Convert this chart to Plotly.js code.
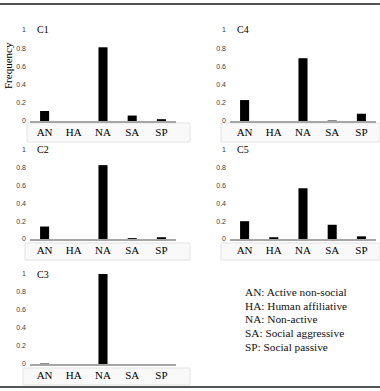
<!DOCTYPE html>
<html>
<head>
<meta charset="utf-8">
<script src="https://cdn.plot.ly/plotly-3.0.1.min.js"></script>
<style>html,body{margin:0;padding:0;background:#fff;}#chart{width:380px;height:391px;}</style>
</head>
<body>
<div id="chart"></div>
<script>
// ---- data ----
const categories = ['AN', 'HA', 'NA', 'SA', 'SP'];
const panelNames = ['C1', 'C2', 'C3', 'C4', 'C5'];
const c1 = [0.11, 0, 0.81, 0.06, 0.02];
const c2 = [0.14, 0, 0.83, 0.01, 0.02];
const c3 = [0.005, 0, 1.0, 0, 0];
const c4 = [0.23, 0, 0.69, 0.005, 0.08];
const c5 = [0.20, 0.02, 0.57, 0.16, 0.03];
const yTickVals = [0, 0.2, 0.4, 0.6, 0.8, 1];
const yTickText = ['0', '0.2', '0.4', '0.6', '0.8', '1'];
const legendLines = ['AN: Active non-social', 'HA: Human affiliative', 'NA: Non-active', 'SA: Social aggressive', 'SP: Social passive'];
const yTitle = 'Frequency';

// ---- layout helpers ----
const W = 380, H = 391;
const px = v => v / W;
const py = v => 1 - v / H;
const serif = "'Liberation Serif', 'Times New Roman', serif";
const sans = "'Liberation Sans', Arial, sans-serif";

const series = [c1, c2, c3, c4, c5];
// panel pixel geometry: [x0, x1, yTop, yBottom]
const geo = [
  [30, 176, 30, 121],
  [30, 176, 150, 239],
  [30, 176, 274, 364],
  [230, 376, 30, 121],
  [230, 376, 150, 239]
];
const boxes = [
  [27, 190, 123, 142],
  [25, 190, 243, 260],
  [23, 190, 368, 385],
  [221, 380, 123, 142],
  [221, 380, 243, 260]
];

const data = [];
const layout = {
  width: W, height: H,
  margin: {l: 0, r: 0, t: 0, b: 0},
  paper_bgcolor: '#fff', plot_bgcolor: 'rgba(0,0,0,0)',
  showlegend: false,
  bargap: 0.69,
  shapes: [], annotations: []
};

series.forEach((vals, i) => {
  const n = i === 0 ? '' : String(i + 1);
  data.push({
    type: 'bar', x: categories, y: vals,
    xaxis: 'x' + n, yaxis: 'y' + n,
    marker: {color: '#000', line: {width: 0}},
    hoverinfo: 'skip'
  });
  const g = geo[i];
  layout['xaxis' + n] = {
    domain: [px(g[0]), px(g[1])], anchor: 'y' + n,
    type: 'category', range: [-0.5, 4.5],
    showline: true, linecolor: '#a6a6a6', linewidth: 1.5,
    ticks: '', showgrid: false, zeroline: false,
    tickfont: {family: serif, size: 11, color: '#000'},
    fixedrange: true
  };
  layout['yaxis' + n] = {
    domain: [py(g[3]), py(g[2])], anchor: 'x' + n,
    range: [0, 1], tickmode: 'array', tickvals: yTickVals, ticktext: yTickText,
    showline: false, showgrid: false, zeroline: false, ticks: '',
    ticklabelstandoff: 3,
    tickfont: {family: sans, size: 7, color: '#404040'},
    fixedrange: true
  };
  const b = boxes[i];
  layout.shapes.push({
    type: 'rect', xref: 'paper', yref: 'paper', layer: 'below',
    x0: px(b[0]), x1: px(b[1]), y0: py(b[3]), y1: py(b[2]),
    fillcolor: '#f9f9f9', line: {color: '#e3e3e3', width: 1}
  });
  layout.annotations.push({
    text: panelNames[i], xref: 'paper', yref: 'paper',
    x: px(g[0] + 13), y: py(g[2]), xanchor: 'center', yanchor: 'middle',
    showarrow: false, font: {family: serif, size: 10, color: '#000'}
  });
});

// borders
layout.shapes.push({type: 'line', xref: 'paper', yref: 'paper', x0: 0, x1: 1, y0: py(4), y1: py(4), line: {color: '#555', width: 2}});
layout.shapes.push({type: 'line', xref: 'paper', yref: 'paper', x0: 0, x1: 1, y0: py(387), y1: py(387), line: {color: '#555', width: 2}});

// y title
layout.annotations.push({
  text: yTitle, xref: 'paper', yref: 'paper', x: px(8), y: py(66),
  xanchor: 'center', yanchor: 'middle', textangle: -90, showarrow: false,
  font: {family: serif, size: 11, color: '#000'}
});

// legend text
legendLines.forEach((t, k) => {
  layout.annotations.push({
    text: t, xref: 'paper', yref: 'paper', x: px(243), y: py(292 + k * 13.7),
    xanchor: 'left', yanchor: 'middle', showarrow: false,
    font: {family: serif, size: 11.3, color: '#111'}
  });
});

Plotly.newPlot('chart', data, layout, {displayModeBar: false, staticPlot: true});
</script>
</body>
</html>
